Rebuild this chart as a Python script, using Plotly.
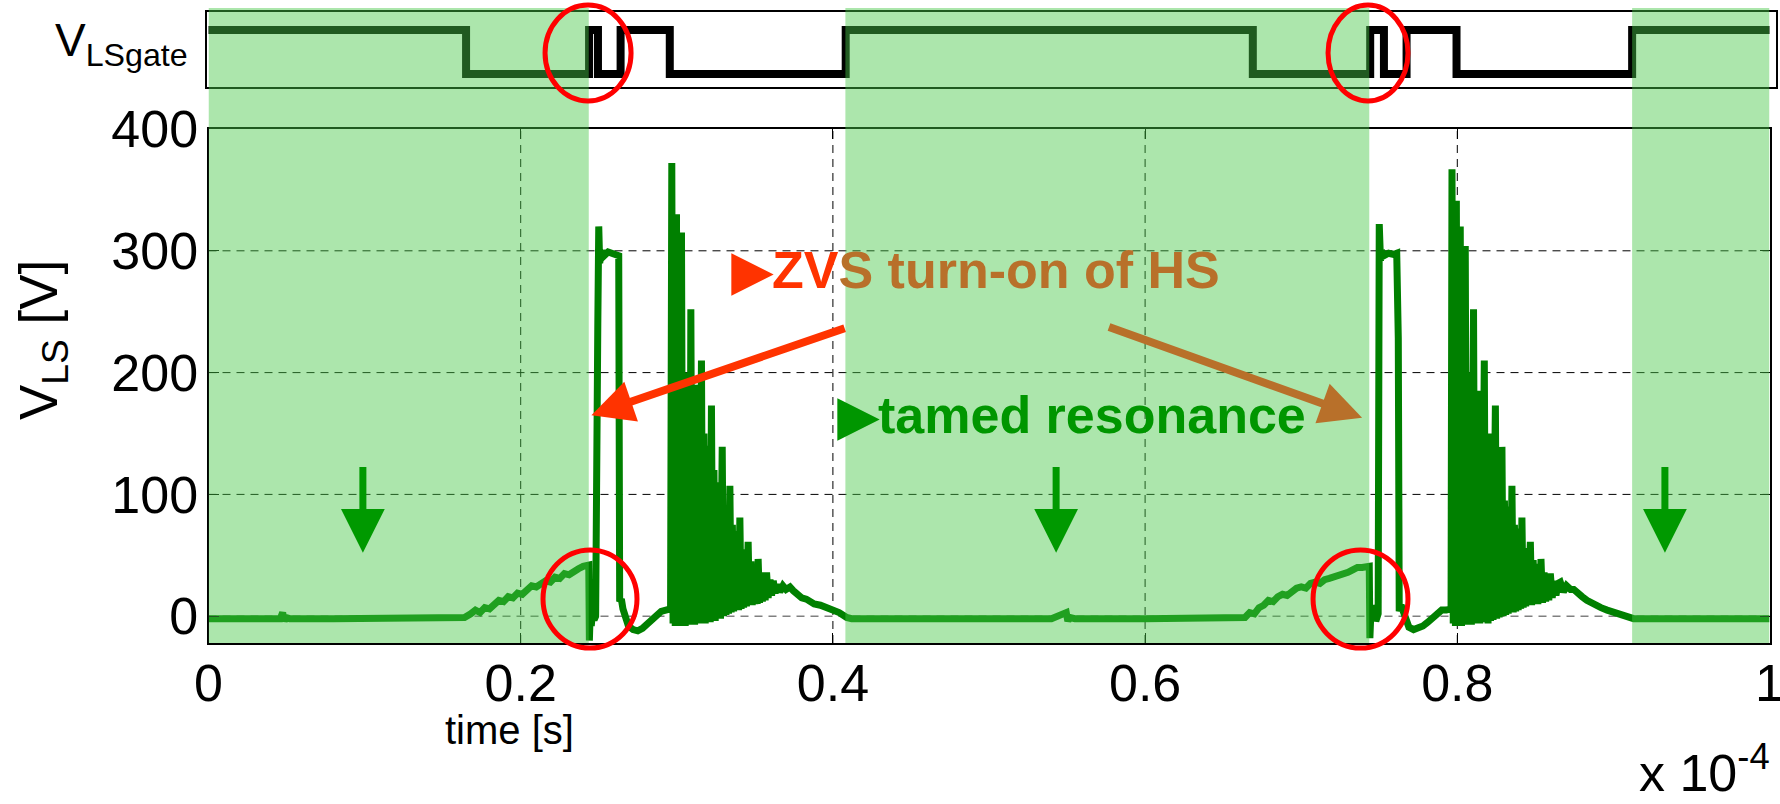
import plotly.graph_objects as go

# ---------------- data (time in units of 1e-4 s, voltage in V) ----------------
x_ticks = [0, 0.2, 0.4, 0.6, 0.8, 1.0]
x_tick_labels = ["0", "0.2", "0.4", "0.6", "0.8", "1"]
y_ticks = [0, 100, 200, 300, 400]
y_tick_labels = ["0", "100", "200", "300", "400"]
y_grid = [100, 200, 300]
x_grid = [0.2, 0.4, 0.6, 0.8]

# green shaded intervals (LS gate on)
shade_start = [0.0, 0.4080, 0.9120]
shade_end = [0.2436, 0.7436, 1.0]

# LS gate signal (top strip)
gate_t = [0.0, 0.1650, 0.2438, 0.2495, 0.2640, 0.2955, 0.4082, 0.6690, 0.7442, 0.7530, 0.7675, 0.7995, 0.9120, 1.0]
gate_v = [1, 0, 1, 0, 1, 0, 1, 0, 1, 0, 1, 0, 1, 1]

# V_LS waveform, segment by segment
flat1_t = [0.000, 0.020, 0.046, 0.0475, 0.0485, 0.0495, 0.052, 0.080, 0.110, 0.140, 0.160]
flat1_v = [-2, -2, -2, 3, -4, -1, -2, -2, -2, -2, -2]

ramp1_t = [0.164, 0.168, 0.171, 0.174, 0.177, 0.180, 0.183, 0.186, 0.189, 0.192, 0.195, 0.198, 0.201,
           0.204, 0.207, 0.210, 0.213, 0.216, 0.219, 0.222, 0.225, 0.228, 0.231, 0.234, 0.237, 0.240, 0.2432]
ramp1_v = [-1, 2, 5, 3, 7, 6, 10, 13, 12, 16, 15, 19, 18, 22, 25, 24, 27, 29, 28, 32, 31, 35, 34, 37, 39, 41, 42]

zvs1_t = [0.2436, 0.2440, 0.2446, 0.2452, 0.2460, 0.2470, 0.2480, 0.2486, 0.2494, 0.2500, 0.2506, 0.2514,
          0.2522, 0.2535, 0.2560, 0.2600, 0.2628, 0.2634, 0.2645, 0.2655, 0.2670, 0.2690, 0.2720, 0.2750,
          0.2780, 0.2810, 0.2840, 0.2870, 0.2900, 0.2930, 0.2955]
zvs1_v = [42, -20, 6, -8, 4, -3, 0, 226, 240, 320, 290, 297, 300, 296, 299, 297, 296, 12, 14, 6, -2, -8,
          -11, -12, -10, -6, -2, 2, 4, 5, 6]

burst1_t = [0.2960, 0.2968, 0.2976, 0.2984, 0.2990, 0.2998, 0.3006, 0.3014, 0.3020, 0.3030, 0.3038, 0.3046,
            0.3054, 0.3062, 0.3070, 0.3078, 0.3084, 0.3090, 0.3098, 0.3106, 0.3114, 0.3122, 0.3130, 0.3138,
            0.3146, 0.3158, 0.3166, 0.3174, 0.3182, 0.3190, 0.3198, 0.3206, 0.3214, 0.3222, 0.3230, 0.3238,
            0.3246, 0.3254, 0.3262, 0.3272, 0.3280, 0.3291, 0.3299, 0.3307, 0.3315, 0.3323, 0.3331, 0.3340,
            0.3348, 0.3356, 0.3364, 0.3372, 0.3380, 0.3388, 0.3396, 0.3404, 0.3412, 0.3420, 0.3428, 0.3438,
            0.3446, 0.3457, 0.3465, 0.3475, 0.3483, 0.3492, 0.3500, 0.3510, 0.3515, 0.3521, 0.3530, 0.3540,
            0.3548, 0.3558, 0.3566, 0.3575, 0.3585, 0.3597, 0.3607, 0.3618, 0.3630, 0.3645, 0.3660, 0.3680,
            0.3700, 0.3725, 0.3746, 0.3775, 0.3800, 0.3830, 0.3853, 0.3880, 0.3920, 0.3960, 0.3992, 0.4040,
            0.4088, 0.4120]
burst1_v = [6, 372, -6, 60, -8, 330, -6, 300, -8, 315, -6, 200,
            -8, 190, -6, 170, -7, 252, -6, 180, -7, 190, -5, 150,
            -6, 210, -5, 150, -6, 140, -4, 120, -5, 173, -3, 120,
            -4, 110, -2, 100, -2, 139, 0, 90, 1, 85, 2, 107,
            3, 75, 4, 70, 5, 65, 5, 81, 6, 55, 7, 50,
            8, 61, 9, 45, 9, 42, 10, 40, 10, 47, 11, 36,
            12, 34, 13, 36, 15, 30, 17, 29, 19, 26, 20, 25,
            22, 24, 21, 18, 15, 14, 12, 10, 9, 7, 6, 3,
            -1, -2]

flat2_t = [0.450, 0.500, 0.540, 0.5495, 0.5505, 0.5515, 0.555, 0.600, 0.640, 0.660]
flat2_v = [-2, -2, -2, 3, -4, -1, -2, -2, -2, -2]

ramp2_t = [0.664, 0.667, 0.670, 0.673, 0.676, 0.679, 0.682, 0.685, 0.688, 0.691, 0.694, 0.697, 0.700,
           0.703, 0.706, 0.709, 0.712, 0.715, 0.718, 0.721, 0.724, 0.727, 0.730, 0.733, 0.736, 0.739, 0.7432]
ramp2_v = [-1, 3, 2, 7, 9, 13, 12, 16, 18, 17, 21, 23, 24, 23, 27, 28, 27, 30, 31, 32, 33, 35, 36, 38, 40, 40, 41]

zvs2_t = [0.7436, 0.7440, 0.7448, 0.7458, 0.7468, 0.7478, 0.7488, 0.7493, 0.7500, 0.7508, 0.7515, 0.7530,
          0.7560, 0.7590, 0.7612, 0.7622, 0.7628, 0.7640, 0.7655, 0.7670, 0.7690, 0.7720, 0.7750, 0.7780,
          0.7810, 0.7840, 0.7870, 0.7900, 0.7930, 0.7955]
zvs2_v = [41, -18, 8, 2, 9, -4, 0, 2, 322, 292, 300, 296, 298, 297, 298, 228, 4, 9, 3, -3, -9, -11, -10,
          -8, -5, -1, 3, 5, 5, 6]

burst2_t = [0.7960, 0.7966, 0.7974, 0.7982, 0.7988, 0.7994, 0.8002, 0.8010, 0.8014, 0.8019, 0.8027, 0.8035,
            0.8043, 0.8051, 0.8059, 0.8067, 0.8075, 0.8083, 0.8090, 0.8096, 0.8100, 0.8104, 0.8112, 0.8120,
            0.8128, 0.8136, 0.8144, 0.8152, 0.8160, 0.8173, 0.8181, 0.8189, 0.8197, 0.8205, 0.8213, 0.8221,
            0.8229, 0.8244, 0.8252, 0.8260, 0.8268, 0.8276, 0.8281, 0.8286, 0.8294, 0.8302, 0.8310, 0.8318,
            0.8326, 0.8334, 0.8342, 0.8350, 0.8358, 0.8366, 0.8374, 0.8382, 0.8390, 0.8398, 0.8406, 0.8414,
            0.8422, 0.8430, 0.8438, 0.8446, 0.8454, 0.8468, 0.8476, 0.8486, 0.8496, 0.8506, 0.8516, 0.8526,
            0.8531, 0.8536, 0.8546, 0.8556, 0.8566, 0.8576, 0.8586, 0.8596, 0.8608, 0.8620, 0.8632, 0.8646,
            0.8660, 0.8680, 0.8700, 0.8725, 0.8746, 0.8775, 0.8800, 0.8830, 0.8860, 0.8890, 0.8920, 0.8960,
            0.9000, 0.9050, 0.9100, 0.9130]
burst2_v = [6, 367, -6, 330, -8, 341, -6, 300, -7, 320, -8, 240,
            -6, 304, -7, 200, -6, 190, -7, 170, -6, 252, -6, 180,
            -5, 185, -6, 150, -5, 210, -5, 150, -6, 150, -4, 125,
            -3, 173, -2, 120, -1, 115, 0, 139, 0, 95, 1, 90,
            2, 80, 3, 107, 3, 75, 4, 72, 5, 66, 6, 81,
            7, 56, 8, 54, 9, 61, 9, 46, 10, 43, 10, 40,
            11, 47, 11, 36, 12, 34, 13, 35, 15, 29, 17, 27,
            28, 20, 25, 22, 22, 18, 16, 13, 11, 8, 7, 5,
            3, 1, -1, -2]

flat3_t = [0.940, 0.970, 1.0]
flat3_v = [-2, -2, -2]

t_vls = flat1_t + ramp1_t + zvs1_t + burst1_t + flat2_t + ramp2_t + zvs2_t + burst2_t + flat3_t
v_vls = flat1_v + ramp1_v + zvs1_v + burst1_v + flat2_v + ramp2_v + zvs2_v + burst2_v + flat3_v

# down-arrow markers (time positions) and annotation arrows (tail/head)
down_arrow_t = [0.0989, 0.5430, 0.9330]
down_arrow_top, down_arrow_tip = 125, 52

FONT = "Liberation Sans, Arial, Helvetica, sans-serif"
W, H = 1780, 804


def px(x):
    return x / W


def py(y):
    return 1 - y / H


fig = go.Figure()
fig.add_trace(go.Scatter(x=t_vls, y=v_vls, mode="lines", xaxis="x", yaxis="y",
                         line=dict(color="#008000", width=7), hoverinfo="skip", showlegend=False))
fig.add_trace(go.Scatter(x=gate_t, y=gate_v, mode="lines", xaxis="x2", yaxis="y2",
                         line=dict(color="black", width=8, shape="hv"), hoverinfo="skip", showlegend=False))

axis_common = dict(showgrid=False, zeroline=False, showline=True, linecolor="black", automargin=False,
                   tickfont=dict(family=FONT, size=52, color="black"))

fig.update_layout(
    width=W, height=H, margin=dict(l=0, r=0, t=0, b=0, autoexpand=False),
    paper_bgcolor="white", plot_bgcolor="white", showlegend=False,
    xaxis=dict(domain=[px(208.5), px(1769.5)], range=[0, 1.000001], anchor="y",
               tickvals=x_ticks, ticktext=x_tick_labels, ticks="inside", ticklen=10, tickcolor="black",
               mirror="ticks", linewidth=2, ticklabelstandoff=-6, ticklabeloverflow="allow", **axis_common),
    yaxis=dict(domain=[py(643), py(129)], range=[-22, 400], anchor="x",
               tickvals=y_ticks, ticktext=y_tick_labels, ticks="inside", ticklen=10, tickcolor="black",
               mirror="ticks", linewidth=2, ticklabelstandoff=-2, ticklabeloverflow="allow", **axis_common),
    xaxis2=dict(domain=[px(207), px(1776)], range=[(207 - 208.5) / 1561, (1776 - 208.5) / 1561],
                anchor="y2", showticklabels=False, ticks="", mirror=True, linewidth=1.5, **axis_common),
    yaxis2=dict(domain=[py(87.3), py(11.7)], range=[-0.302, 1.416], anchor="x2",
                showticklabels=False, ticks="", mirror=True, linewidth=1.5, **axis_common),
)

shapes = []
for yv in y_grid:
    shapes.append(dict(type="line", xref="x", yref="y", x0=0, x1=1, y0=yv, y1=yv, layer="below",
                       line=dict(color="black", width=1, dash="8px,6px")))
shapes.append(dict(type="line", xref="x", yref="y", x0=0, x1=1, y0=0, y1=0, layer="below",
                   line=dict(color="#808080", width=1.5, dash="8px,6px")))
for xv in x_grid:
    shapes.append(dict(type="line", xref="x", yref="y", x0=xv, x1=xv, y0=-22, y1=400, layer="below",
                       line=dict(color="black", width=1, dash="8px,6px")))
for s, e in zip(shade_start, shade_end):
    shapes.append(dict(type="rect", xref="x", yref="paper", x0=s, x1=e, y0=py(643), y1=py(8),
                       fillcolor="rgba(70,200,70,0.45)", line=dict(width=0), layer="above"))
# red highlight circles
circle_boxes = [  # (t0, t1, ytop_px, ybottom_px)
    (0.2156, 0.2707, 5, 101), (0.7172, 0.7684, 5, 101),
    (0.2143, 0.2745, 550, 648), (0.7076, 0.7684, 550, 648),
]
for t0, t1, ya, yb in circle_boxes:
    shapes.append(dict(type="circle", xref="x", yref="paper", x0=t0, x1=t1, y0=py(yb), y1=py(ya),
                       line=dict(color="#FF0000", width=5), layer="above"))
fig.update_layout(shapes=shapes)

ann = []
ann.append(dict(xref="x", yref="y", x=0.3334, y=284, xanchor="left", yanchor="middle", showarrow=False,
                text='<b><span style="color:#FF3300">▶ZV</span><span style="color:#B8702A">S turn-on of HS</span></b>',
                font=dict(family=FONT, size=52)))
ann.append(dict(xref="x", yref="y", x=0.4015, y=165, xanchor="left", yanchor="middle", showarrow=False,
                text="<b>▶tamed resonance</b>", font=dict(family=FONT, size=52, color="#009600")))
ann.append(dict(xref="x", yref="y", axref="x", ayref="y", x=0.2453, y=165, ax=0.4088, ay=237,
                text=" ", font=dict(size=2), showarrow=True, arrowhead=2, arrowwidth=8, arrowsize=1.05,
                arrowcolor="#FF3300", standoff=0))
ann.append(dict(xref="x", yref="y", axref="x", ayref="y", x=0.7390, y=163, ax=0.5756, ay=238,
                text=" ", font=dict(size=2), showarrow=True, arrowhead=2, arrowwidth=8, arrowsize=1.05,
                arrowcolor="#B8702A", standoff=0))
for t in down_arrow_t:
    ann.append(dict(xref="x", yref="y", axref="x", ayref="y", x=t, y=down_arrow_tip, ax=t, ay=down_arrow_top,
                    text=" ", font=dict(size=2), showarrow=True, arrowhead=2, arrowwidth=7, arrowsize=1.25,
                    arrowcolor="#009900", standoff=0))
ann.append(dict(xref="paper", yref="paper", x=px(190), y=py(44), xanchor="right", yanchor="middle",
                showarrow=False, text="V<sub>LSgate</sub>", font=dict(family=FONT, size=46, color="black")))
ann.append(dict(xref="paper", yref="paper", x=px(43), y=py(340), xanchor="center", yanchor="middle",
                textangle=-90, showarrow=False, text="V<sub>LS</sub> [V]",
                font=dict(family=FONT, size=53, color="black")))
ann.append(dict(xref="paper", yref="paper", x=px(510), y=py(730), xanchor="center", yanchor="middle",
                showarrow=False, text="time [s]", font=dict(family=FONT, size=40, color="black")))
ann.append(dict(xref="paper", yref="paper", x=px(1772), y=py(804), xanchor="right", yanchor="bottom",
                showarrow=False, text="x 10<sup>-4</sup>", font=dict(family=FONT, size=52, color="black")))
fig.update_layout(annotations=ann)

fig.write_html("out.html")
